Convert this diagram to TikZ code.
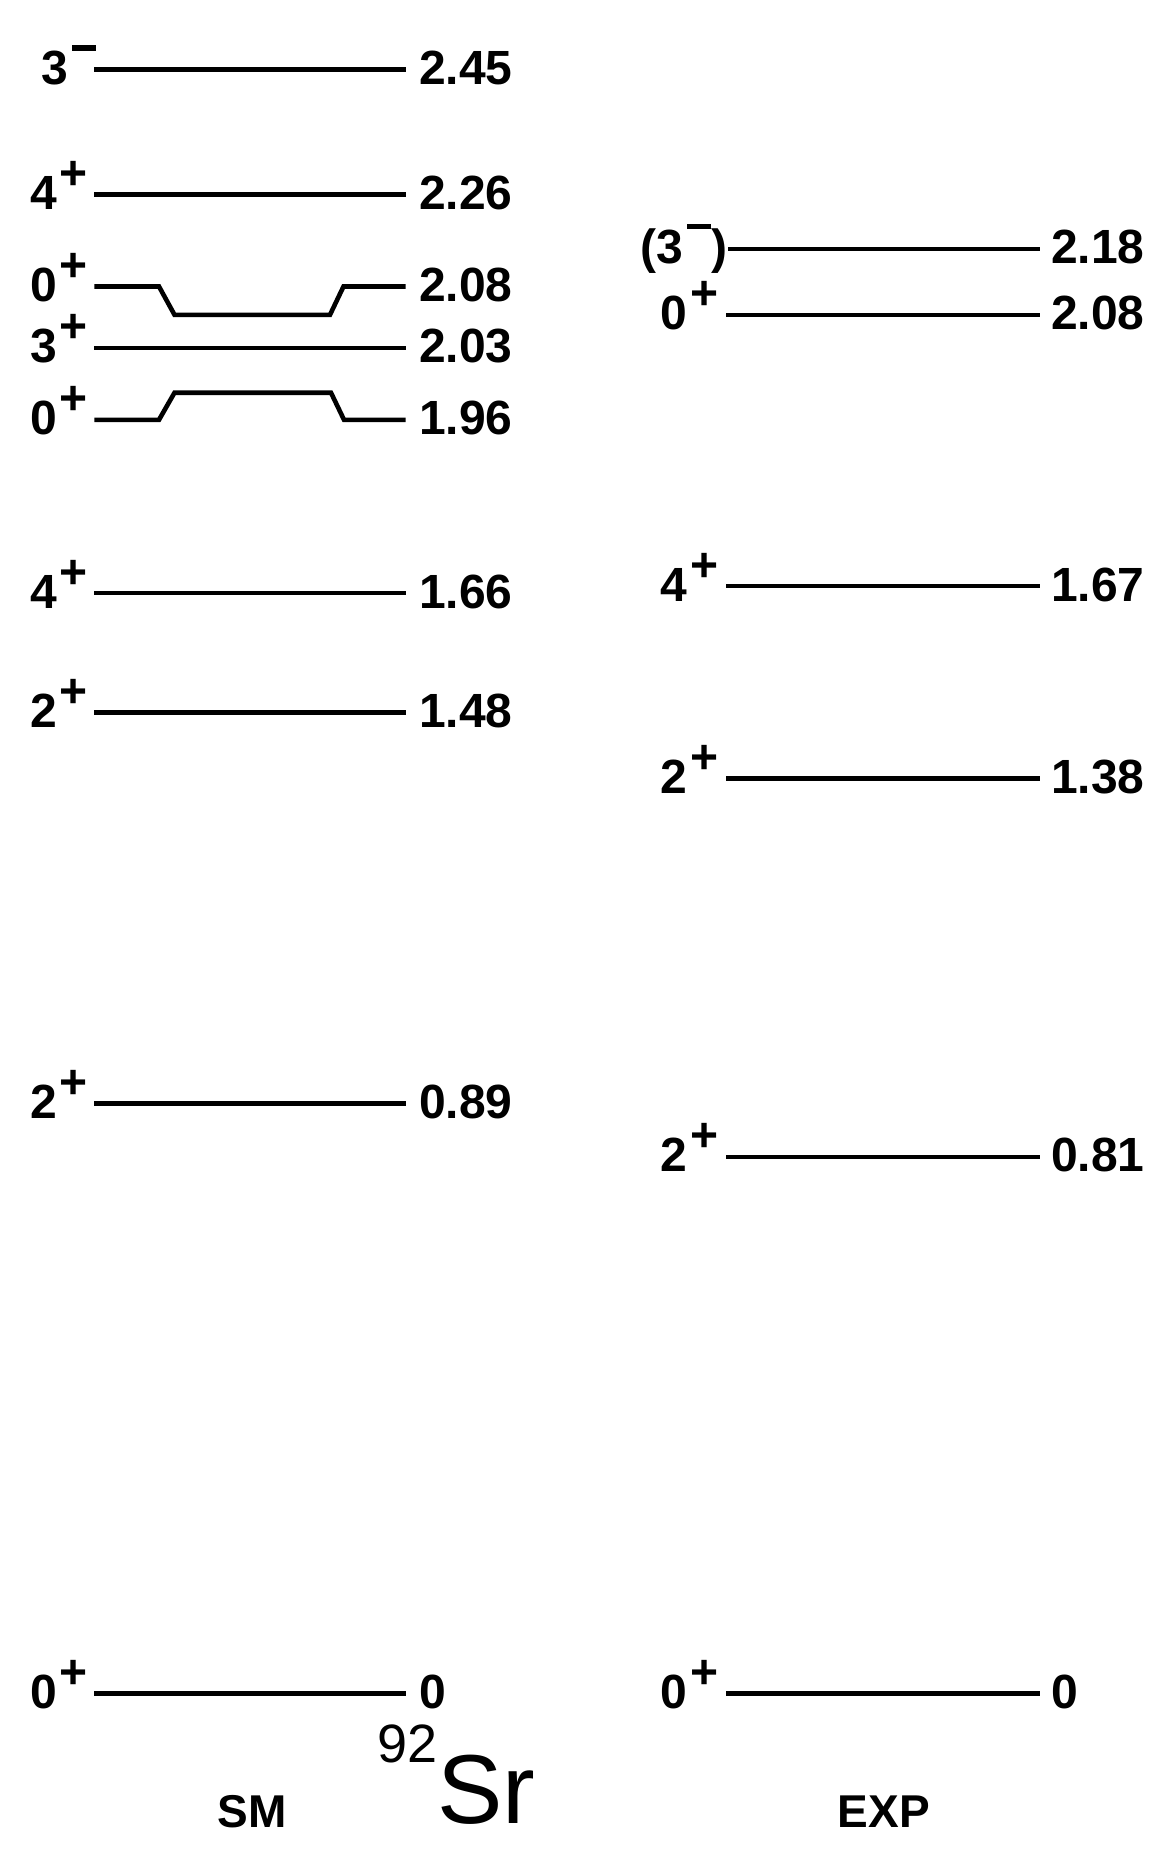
\documentclass[tikz,border=0pt]{standalone}
\usepackage{fontspec}
\setmainfont{Liberation Sans}
\newcommand\labfont{\fontsize{48}{50}\selectfont\bfseries}
\newcommand\spinlab[2]{#1\kern3pt\raisebox{20pt}{#2}}
\newcommand\minusbar{\kern1pt\raisebox{14pt}{\rule{24pt}{5.5pt}}\kern1pt}
\begin{document}
\begin{tikzpicture}[x=1pt,y=-1pt,
  lvl/.style={line width=4.6pt, line join=miter},
  val/.style={font=\labfont, anchor=base west, inner sep=0pt},
  spin/.style={font=\labfont, anchor=base west, inner sep=0pt}]
\useasboundingbox (0,0) rectangle (1158,1849);

% ---------- SM ----------
% 3- 2.45
\coordinate (s1a) at (94.3,69.6); \coordinate (s1b) at (405.6,69.6);
\draw[lvl] (s1a) -- (s1b);
\node[spin] (s1s) at (41.5,84.6) {\spinlab{3}{\minusbar}};
\node[val] (s1v) at (419,84.6) {2.45};
% 4+ 2.26
\coordinate (s2a) at (94.3,194.6); \coordinate (s2b) at (405.6,194.6);
\draw[lvl] (s2a) -- (s2b);
\node[spin] (s2s) at (30,209.6) {\spinlab{4}{+}};
\node[val] (s2v) at (419,209.6) {2.26};
% 0+ 2.08 (kinked)
\coordinate (s3a) at (94.3,286.5); \coordinate (s3b) at (405.6,286.5);
\coordinate (s3k1) at (159,286.5); \coordinate (s3k2) at (174.5,314.8);
\coordinate (s3k3) at (330,314.8); \coordinate (s3k4) at (343.5,286.5);
\draw[lvl] (s3a) -- (s3k1) -- (s3k2) -- (s3k3) -- (s3k4) -- (s3b);
\node[spin] (s3s) at (30,301.5) {\spinlab{0}{+}};
\node[val] (s3v) at (419,301.5) {2.08};
% 3+ 2.03
\coordinate (s4a) at (94.3,347.9); \coordinate (s4b) at (405.6,347.9);
\draw[lvl] (s4a) -- (s4b);
\node[spin] (s4s) at (30,362.4) {\spinlab{3}{+}};
\node[val] (s4v) at (419,362.4) {2.03};
% 0+ 1.96 (kinked)
\coordinate (s5a) at (94.3,419.8); \coordinate (s5b) at (405.6,419.8);
\coordinate (s5k1) at (159,419.8); \coordinate (s5k2) at (174.5,392.7);
\coordinate (s5k3) at (331,392.7); \coordinate (s5k4) at (344,419.8);
\draw[lvl] (s5a) -- (s5k1) -- (s5k2) -- (s5k3) -- (s5k4) -- (s5b);
\node[spin] (s5s) at (30,434.8) {\spinlab{0}{+}};
\node[val] (s5v) at (419,434.8) {1.96};
% 4+ 1.66
\coordinate (s6a) at (94.3,593.1); \coordinate (s6b) at (405.6,593.1);
\draw[lvl] (s6a) -- (s6b);
\node[spin] (s6s) at (30,608.1) {\spinlab{4}{+}};
\node[val] (s6v) at (419,608.1) {1.66};
% 2+ 1.48
\coordinate (s7a) at (94.3,712.2); \coordinate (s7b) at (405.6,712.2);
\draw[lvl] (s7a) -- (s7b);
\node[spin] (s7s) at (30,727.2) {\spinlab{2}{+}};
\node[val] (s7v) at (419,727.2) {1.48};
% 2+ 0.89
\coordinate (s8a) at (94.3,1103.7); \coordinate (s8b) at (405.6,1103.7);
\draw[lvl] (s8a) -- (s8b);
\node[spin] (s8s) at (30,1118.7) {\spinlab{2}{+}};
\node[val] (s8v) at (419,1118.7) {0.89};
% 0+ 0
\coordinate (s9a) at (94.3,1693.3); \coordinate (s9b) at (405.6,1693.3);
\draw[lvl] (s9a) -- (s9b);
\node[spin] (s9s) at (30,1708.3) {\spinlab{0}{+}};
\node[val] (s9v) at (419,1708.3) {0};

% ---------- EXP ----------
% (3-) 2.18
\coordinate (e1a) at (728,248.8); \coordinate (e1b) at (1040,248.8);
\draw[lvl] (e1a) -- (e1b);
\node[spin] (e1s) at (640,263) {(\spinlab{3}{\minusbar})};
\node[val] (e1v) at (1051,263.8) {2.18};
% 0+ 2.08
\coordinate (e2a) at (726.4,314.8); \coordinate (e2b) at (1040,314.8);
\draw[lvl] (e2a) -- (e2b);
\node[spin] (e2s) at (660.7,329.8) {\spinlab{0}{+}};
\node[val] (e2v) at (1051,329.8) {2.08};
% 4+ 1.67
\coordinate (e3a) at (726.4,586.1); \coordinate (e3b) at (1040,586.1);
\draw[lvl] (e3a) -- (e3b);
\node[spin] (e3s) at (660.7,601.1) {\spinlab{4}{+}};
\node[val] (e3v) at (1051,601.1) {1.67};
% 2+ 1.38
\coordinate (e4a) at (726.4,778.3); \coordinate (e4b) at (1040,778.3);
\draw[lvl] (e4a) -- (e4b);
\node[spin] (e4s) at (660.7,793.3) {\spinlab{2}{+}};
\node[val] (e4v) at (1051,793.3) {1.38};
% 2+ 0.81
\coordinate (e5a) at (726.4,1156.8); \coordinate (e5b) at (1040,1156.8);
\draw[lvl] (e5a) -- (e5b);
\node[spin] (e5s) at (660.7,1171.8) {\spinlab{2}{+}};
\node[val] (e5v) at (1051,1171.8) {0.81};
% 0+ 0
\coordinate (e6a) at (726.4,1693.3); \coordinate (e6b) at (1040,1693.3);
\draw[lvl] (e6a) -- (e6b);
\node[spin] (e6s) at (660.7,1708.3) {\spinlab{0}{+}};
\node[val] (e6v) at (1051,1708.3) {0};

% ---------- captions ----------
\node[font=\fontsize{46}{48}\selectfont\bfseries, anchor=base, inner sep=0pt] (sm) at (252,1827) {SM};
\node[font=\fontsize{46}{48}\selectfont\bfseries, anchor=base, inner sep=0pt] (exp) at (884,1827) {EXP};
\node[font=\fontsize{54}{56}\selectfont, anchor=base west, inner sep=0pt] (mass) at (377,1762) {92};
\node[font=\fontsize{98}{100}\selectfont, anchor=base west, inner sep=0pt] (sr) at (437,1823) {Sr};
\end{tikzpicture}
\end{document}
